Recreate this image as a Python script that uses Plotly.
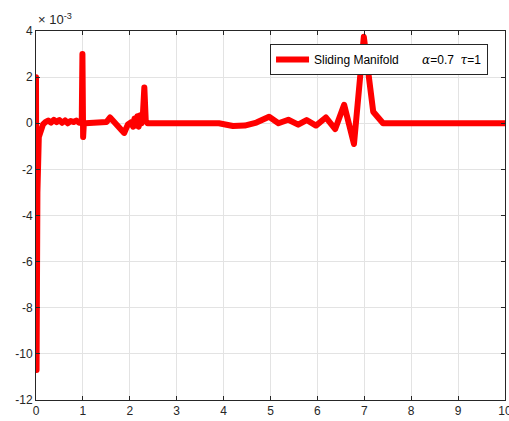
import plotly.graph_objects as go

# time axis (s) and sliding manifold value (units of 1e-3)
t = [0, 0.012, 0.03, 0.06, 0.1, 0.15, 0.2, 0.26, 0.32, 0.38, 0.44, 0.5, 0.56,
     0.62, 0.68, 0.74, 0.8, 0.86, 0.92, 0.975, 0.99, 1.005, 1.02, 1.05, 1.2,
     1.4, 1.5, 1.58, 1.68, 1.78, 1.88, 1.96, 2.03, 2.07, 2.1, 2.13, 2.16, 2.19,
     2.22, 2.25, 2.28, 2.31, 2.34, 2.38, 2.45, 2.7, 3.0, 3.5, 3.9, 4.2, 4.45,
     4.7, 4.97, 5.17, 5.38, 5.59, 5.77, 5.97, 6.18, 6.38, 6.57, 6.78, 6.99,
     7.19, 7.4, 8.0, 9.0, 10.0]
s = [2.0, -10.7, -3.0, -0.6, -0.25, -0.05, 0.05, 0.12, 0.03, 0.15, 0.05, 0.14,
     0.02, 0.12, 0.0, 0.1, 0.05, 0.12, 0.02, 0.05, 3.0, -0.6, 0.0, 0.0, 0.0,
     0.0, 0.05, 0.25, 0.0, -0.2, -0.42, -0.05, 0.05, -0.15, 0.2, -0.1, 0.3,
     -0.15, 0.35, 0.0, 0.4, 1.55, 0.1, 0.0, 0.0, 0.0, 0.02, 0.0, 0.0, -0.12,
     -0.1, 0.03, 0.28, 0.0, 0.15, -0.06, 0.14, -0.1, 0.25, -0.25, 0.8, -0.9,
     3.75, 0.5, 0.0, 0.0, 0.0, 0.0]

x_ticks = [0, 1, 2, 3, 4, 5, 6, 7, 8, 9, 10]
y_ticks = [-12, -10, -8, -6, -4, -2, 0, 2, 4]
y_tick_text = [str(v) for v in y_ticks]

legend_name = ("Sliding Manifold\u00a0\u00a0\u00a0\u00a0\u00a0\u00a0\u00a0"
               "<span style='font-family:DejaVu Serif'><i>\u03b1</i></span>=0.7"
               "\u00a0\u00a0<span style='font-family:DejaVu Serif'><i>\u03c4</i></span>=1")

fig = go.Figure()
fig.add_trace(go.Scatter(x=t, y=s, mode="lines", name=legend_name,
                         line=dict(color="#ff0000", width=6)))

axis_common = dict(
    showline=True, linecolor="#262626", linewidth=1, mirror="allticks",
    ticks="inside", ticklen=4, tickcolor="#262626",
    showgrid=True, gridcolor="#e3e3e3", gridwidth=1, zeroline=False,
    ticklabeloverflow="allow", automargin=False,
    tickfont=dict(family="Liberation Sans, Arial", size=12, color="#262626"),
)

fig.update_xaxes(range=[0, 10], tickvals=x_ticks, **axis_common)
fig.update_yaxes(range=[-12, 4], tickvals=y_ticks, ticktext=y_tick_text,
                 **axis_common)

fig.update_layout(
    width=509, height=421,
    margin=dict(l=36, r=4, t=31, b=21),
    paper_bgcolor="white", plot_bgcolor="white",
    showlegend=True,
    legend=dict(x=0.499, y=0.965, xanchor="left", yanchor="top",
                bgcolor="white", bordercolor="#262626", borderwidth=1,
                font=dict(family="Liberation Sans, Arial", size=12, color="#000000"),
                itemwidth=33, tracegroupgap=0),
    annotations=[dict(text="\u00d7 10<sup>-3</sup>", xref="paper", yref="paper",
                      x=0, y=1, xanchor="left", yanchor="bottom", yshift=2,
                      showarrow=False,
                      font=dict(family="Liberation Sans, Arial", size=13,
                                color="#262626"))],
)

post = ("document.querySelectorAll('.scatterlayer path').forEach(function(p){"
        "p.style.strokeLinejoin='round';p.style.strokeLinecap='round';});")
fig.write_html("out.html", post_script=post)
